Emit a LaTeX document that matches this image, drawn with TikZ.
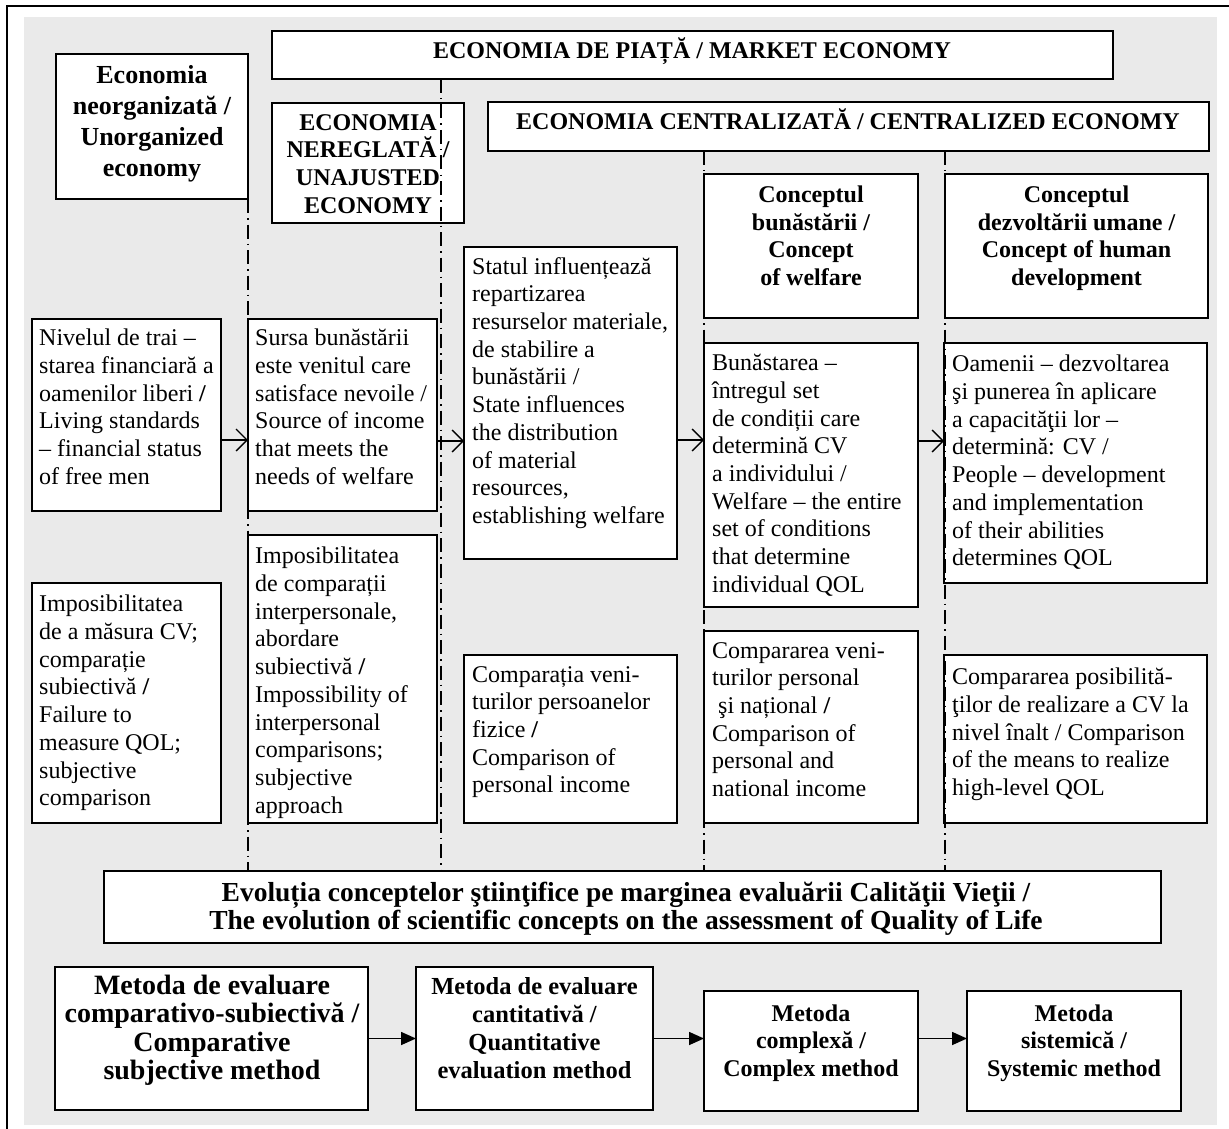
\documentclass[tikz,border=0pt]{standalone}
\usepackage{fontspec}
\setmainfont{Liberation Serif}
\usetikzlibrary{arrows.meta}
\definecolor{bggray}{RGB}{234,234,234}
\tikzset{
 box/.style={draw, line width=1.8pt, fill=white, inner sep=0pt, outer sep=0pt, anchor=north west},
 body/.style={font=\fontsize{24}{27.7}\selectfont, align=left, inner sep=0pt, anchor=north west},
 hdr/.style={font=\bfseries\fontsize{24}{27.7}\selectfont, align=center, inner sep=0pt},
 ddline/.style={line width=1.3pt, dash pattern=on 14pt off 5pt on 1.5pt off 5pt},
 openarr/.style={line width=1.3pt, -{Straight Barb[length=11pt,width=22pt,line width=1.3pt]}},
 fillarr/.style={line width=1.6pt, -{Triangle[length=15pt,width=13pt]}},
}
\begin{document}
\begin{tikzpicture}[x=1pt,y=-1pt]
\useasboundingbox (0,0) rectangle (1229,1129);
\fill[bggray] (24,17) rectangle (1217,1125);
\draw[line width=2.2pt] (7,1140) -- (7,6) -- (1240,6);

% boxes
\node[box, minimum width=841pt, minimum height=48pt] (market) at (272,31) {};
\node[box, minimum width=192pt, minimum height=145pt] (unorg) at (56,54) {};
\node[box, minimum width=192pt, minimum height=120pt] (unadj) at (272,103) {};
\node[box, minimum width=721pt, minimum height=49pt] (central) at (488,102) {};
\node[box, minimum width=214pt, minimum height=144pt] (conc1) at (704,174) {};
\node[box, minimum width=263pt, minimum height=144pt] (conc2) at (945,174) {};
\node[box, minimum width=189pt, minimum height=192pt] (nivel) at (32,319) {};
\node[box, minimum width=189pt, minimum height=192pt] (sursa) at (248,319) {};
\node[box, minimum width=213pt, minimum height=312pt] (statul) at (464,247) {};
\node[box, minimum width=214pt, minimum height=264pt] (bunas) at (704,343) {};
\node[box, minimum width=263pt, minimum height=240pt] (oamen) at (944,343) {};
\node[box, minimum width=189pt, minimum height=240pt] (impcv) at (32,583) {};
\node[box, minimum width=189pt, minimum height=288pt] (impcomp) at (248,535) {};
\node[box, minimum width=213pt, minimum height=168pt] (compa) at (464,655) {};
\node[box, minimum width=214pt, minimum height=192pt] (compb) at (704,631) {};
\node[box, minimum width=263pt, minimum height=168pt] (compc) at (944,655) {};
\node[box, minimum width=1057pt, minimum height=72pt] (evol) at (104,871) {};
\node[box, minimum width=313pt, minimum height=143pt] (ma) at (55,967) {};
\node[box, minimum width=237pt, minimum height=143pt] (mb) at (416,967) {};
\node[box, minimum width=214pt, minimum height=120pt] (mc) at (704,991) {};
\node[box, minimum width=214pt, minimum height=120pt] (md) at (967,991) {};

% headers
\node[hdr, anchor=base] (marketT) at (692,59) {ECONOMIA DE PIAȚĂ / MARKET ECONOMY};
\node[hdr, anchor=base] (centralT) at (848,130) {ECONOMIA CENTRALIZATĂ / CENTRALIZED ECONOMY};
\node[hdr, font=\bfseries\fontsize{26}{31}\selectfont, anchor=north] (unorgT) at (152,65.5) {Economia\\neorganizată /\\Unorganized\\economy};
\node[hdr, anchor=north] (unadjT) at (368,114) {ECONOMIA\\NEREGLATĂ /\\UNAJUSTED\\ECONOMY};
\node[hdr, anchor=north] (conc1T) at (811,185.7) {Conceptul\\bunăstării /\\Concept\\of welfare};
\node[hdr, anchor=north] (conc2T) at (1076.5,185.7) {Conceptul\\dezvoltării umane /\\Concept of human\\development};
\node[hdr, font=\bfseries\fontsize{27.5}{28}\selectfont, anchor=north] (evolT) at (626,881.6) {Evoluția conceptelor ştiinţifice pe marginea evaluării Calităţii Vieţii /\\The evolution of scientific concepts on the assessment of Quality of Life};
\node[hdr, font=\bfseries\fontsize{28}{28.5}\selectfont, anchor=north] (maT) at (212,974.6) {Metoda de evaluare\\comparativo-subiectivă /\\Comparative\\subjective method};
\node[hdr, font=\bfseries\fontsize{24.5}{28}\selectfont, anchor=north] (mbT) at (534.5,977.6) {Metoda de evaluare\\cantitativă /\\Quantitative\\evaluation method};
\node[hdr, font=\bfseries\fontsize{24}{27.5}\selectfont, anchor=north] (mcT) at (811,1004.6) {Metoda\\complexă /\\Complex method};
\node[hdr, font=\bfseries\fontsize{24}{27.5}\selectfont, anchor=north] (mdT) at (1074,1004.6) {Metoda\\sistemică /\\Systemic method};

% body texts
\node[body] (nivelT) at ([shift={(7,10)}]nivel.north west) {Nivelul de trai –\\starea financiară a\\oamenilor liberi \textbf{/}\\Living standards\\– financial status\\of free men};
\node[body] (sursaT) at ([shift={(7,10)}]sursa.north west) {Sursa bunăstării\\este venitul care\\satisface nevoile /\\Source of income\\that meets the\\needs of welfare};
\node[body] (statulT) at ([shift={(8,10)}]statul.north west) {Statul influențează\\repartizarea\\resurselor materiale,\\de stabilire a\\bunăstării /\\State influences\\the distribution\\of material\\resources,\\establishing welfare};
\node[body] (bunasT) at ([shift={(8,11)}]bunas.north west) {Bunăstarea –\\întregul set\\de condiții care\\determină CV\\a individului /\\Welfare – the entire\\set of conditions\\that determine\\individual QOL};
\node[body] (oamenT) at ([shift={(8,12)}]oamen.north west) {Oamenii – dezvoltarea\\şi punerea în aplicare\\a capacităţii lor –\\determină: CV /\\People – development\\and implementation\\of their abilities\\determines QOL};
\node[body] (impcvT) at ([shift={(7,12)}]impcv.north west) {Imposibilitatea\\de a măsura CV;\\comparație\\subiectivă \textbf{/}\\Failure to\\measure QOL;\\subjective\\comparison};
\node[body] (impcompT) at ([shift={(7,12)}]impcomp.north west) {Imposibilitatea\\de comparații\\interpersonale,\\abordare\\subiectivă \textbf{/}\\Impossibility of\\interpersonal\\comparisons;\\subjective\\approach};
\node[body] (compaT) at ([shift={(8,11)}]compa.north west) {Comparația veni-\\turilor persoanelor\\fizice \textbf{/}\\Comparison of\\personal income};
\node[body] (compbT) at ([shift={(8,11)}]compb.north west) {Compararea veni-\\turilor personal\\\ şi național \textbf{/}\\Comparison of\\personal and\\national income};
\node[body] (compcT) at ([shift={(8,13)}]compc.north west) {Compararea posibilită-\\ţilor de realizare a CV la\\nivel înalt / Comparison\\of the means to realize\\high-level QOL};

% dash-dot guide lines
\coordinate (bTop) at (441,79);
\draw[ddline] (unorg.south east) -- (unorg.south east |- evol.north);
\draw[ddline] (bTop) -- (bTop |- evol.north);
\draw[ddline] (central.south -| conc1.west) -- (conc1.west |- evol.north);
\draw[ddline] (central.south -| conc2.west) -- (conc2.west |- evol.north);

% open arrows
\draw[openarr] ([yshift=-25pt]nivel.east) -- ([yshift=-25pt]nivel.east -| sursa.west);
\draw[openarr] ([yshift=-26pt]sursa.east) -- ([yshift=-26pt]sursa.east -| statul.west);
\draw[openarr] ([yshift=-37pt]statul.east) -- ([yshift=-37pt]statul.east -| bunas.west);
\draw[openarr] ([yshift=34pt]bunas.east) -- ([yshift=34pt]bunas.east -| oamen.west);

% filled arrows
\draw[fillarr] (ma.east) -- (mb.west);
\draw[fillarr] (mb.east) -- (mb.east -| mc.west);
\draw[fillarr] (mc.east |- mb.east) -- (md.west |- mb.east);
\end{tikzpicture}
\end{document}
